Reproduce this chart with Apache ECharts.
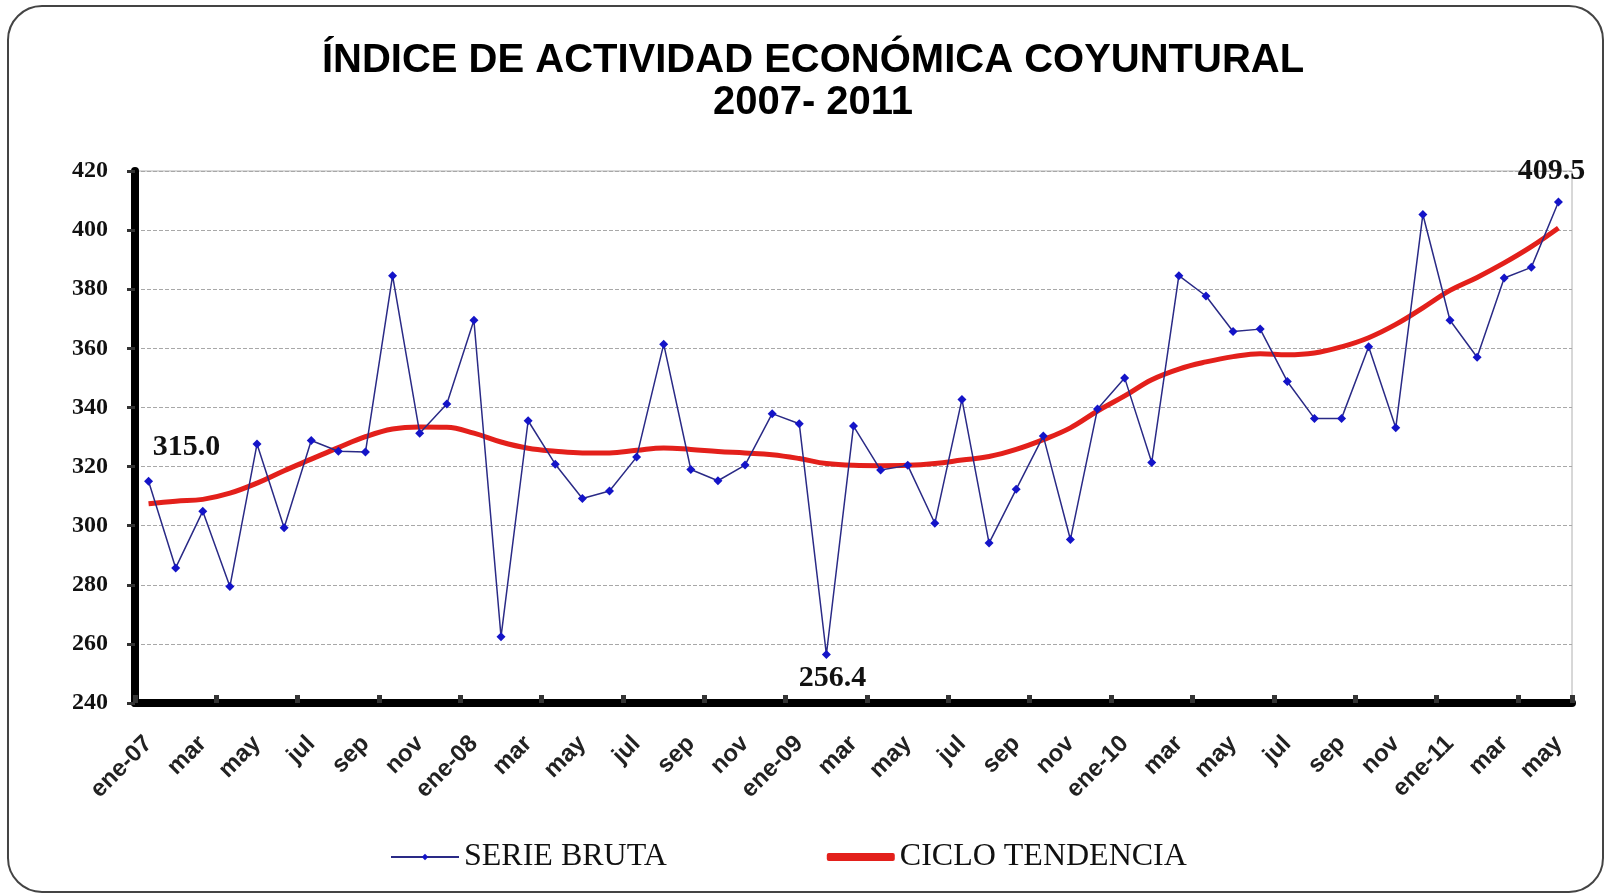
<!DOCTYPE html>
<html>
<head>
<meta charset="utf-8">
<script src="https://cdn.jsdelivr.net/npm/echarts@6/dist/echarts.min.js"></script>
<style>html,body{margin:0;padding:0;background:#fff;}#c{width:1607px;height:895px;}</style>
</head>
<body>
<div id="c"></div>
<script>
var categories = ['ene-07','feb','mar','abr','may','jun','jul','ago','sep','oct','nov','dic',
  'ene-08','feb','mar','abr','may','jun','jul','ago','sep','oct','nov','dic',
  'ene-09','feb','mar','abr','may','jun','jul','ago','sep','oct','nov','dic',
  'ene-10','feb','mar','abr','may','jun','jul','ago','sep','oct','nov','dic',
  'ene-11','feb','mar','abr','may'];
var serieBruta = [315.0, 285.7, 304.9, 279.4, 327.6, 299.3, 328.8, 325.2, 324.9, 384.6, 331.3, 341.2,
  369.5, 262.4, 335.5, 320.8, 309.2, 311.7, 323.2, 361.4, 319.0, 315.2, 320.5, 337.9,
  334.5, 256.4, 333.7, 318.8, 320.4, 300.8, 342.7, 294.1, 312.3, 330.3, 295.3, 339.5,
  350.0, 321.4, 384.6, 377.7, 365.7, 366.5, 348.8, 336.3, 336.3, 360.5, 333.1, 405.3,
  369.5, 357.0, 383.8, 387.4, 409.5];
var cicloTendencia = [307.4, 308.3, 308.9, 311.0, 314.4, 318.6, 322.5, 326.4, 330.1, 332.7, 333.4, 333.3,
  331.3, 328.3, 326.2, 325.2, 324.6, 324.6, 325.5, 326.3, 325.8, 325.1, 324.6, 324.0,
  322.7, 321.0, 320.4, 320.3, 320.4, 321.0, 322.2, 323.4, 325.8, 329.1, 333.1, 338.8,
  343.9, 349.4, 353.0, 355.4, 357.2, 358.2, 357.8, 358.4, 360.5, 363.6, 368.1, 373.7,
  379.6, 384.0, 388.9, 394.4, 400.7];
var yTicks = {min: 240, max: 420, interval: 20};
var labelledPoints = [0, 25, 52];

var labelFont = {fontFamily: 'Liberation Serif', fontWeight: 'bold', fontSize: 30, color: '#111'};
var labelPlacement = {
  0: {position: 'top', distance: 5, offset: [38, -10]},
  25: {position: 'bottom', distance: 4, offset: [6, 0]},
  52: {position: 'top', distance: 5, offset: [-7, -6]}
};
var brutaData = serieBruta.map(function (v, i) {
  if (labelledPoints.indexOf(i) >= 0) {
    return {value: v, label: Object.assign({show: true, formatter: function (p) { return p.value.toFixed(1); }}, labelFont, labelPlacement[i])};
  }
  return v;
});

var chart = echarts.init(document.getElementById('c'));
chart.setOption({
  animation: false,
  backgroundColor: '#fff',
  title: {
    text: 'ÍNDICE DE ACTIVIDAD ECONÓMICA COYUNTURAL\n2007- 2011',
    left: 808, top: 35, textAlign: 'center',
    textStyle: {fontFamily: 'Liberation Sans', fontWeight: 'bold', fontSize: 40, lineHeight: 42, color: '#000'}
  },
  graphic: [{
    type: 'rect', silent: true, z: -1,
    shape: {x: 8, y: 6, width: 1595, height: 886, r: 34},
    style: {fill: 'none', stroke: '#444', lineWidth: 2}
  }],
  legend: {
    left: 385, top: 836, itemGap: 160, itemWidth: 68, itemHeight: 8,
    textStyle: {fontFamily: 'Liberation Serif', fontSize: 32, color: '#111'},
    data: [{name: 'SERIE BRUTA'}, {name: 'CICLO TENDENCIA', icon: 'roundRect'}]
  },
  grid: {left: 135, right: 35, top: 171, bottom: 192, show: true, borderColor: '#b0b0b0', borderWidth: 1, containLabel: false},
  xAxis: {
    type: 'category', data: categories, boundaryGap: true,
    axisLine: {lineStyle: {color: '#000', width: 8}},
    axisTick: {show: true, inside: true, length: 8, interval: function (i) { return i % 3 === 0; }, lineStyle: {color: '#333', width: 5}},
    axisLabel: {interval: 1, rotate: 45, margin: 37, fontFamily: 'Liberation Sans', fontWeight: 'bold', fontSize: 24, color: '#222'},
    splitLine: {show: false}
  },
  yAxis: {
    type: 'value', min: yTicks.min, max: yTicks.max, interval: yTicks.interval,
    axisLine: {show: true, lineStyle: {color: '#000', width: 8}},
    axisTick: {show: true, length: 8, lineStyle: {color: '#333', width: 3}},
    axisLabel: {margin: 27, fontFamily: 'Liberation Serif', fontWeight: 'bold', fontSize: 24, color: '#111'},
    splitLine: {show: true, lineStyle: {color: '#a8a8a8', type: 'dashed', width: 1}}
  },
  series: [{
    name: 'SERIE BRUTA', type: 'line', data: brutaData,
    symbol: 'diamond', symbolSize: 9,
    itemStyle: {color: '#1414c8'},
    lineStyle: {color: '#2a2a86', width: 1.5},
    z: 3
  }, {
    name: 'CICLO TENDENCIA', type: 'line', data: cicloTendencia,
    symbol: 'none', smooth: 0.4,
    itemStyle: {color: '#e3201b'},
    lineStyle: {color: '#e3201b', width: 5},
    z: 2
  }]
});
</script>
</body>
</html>
